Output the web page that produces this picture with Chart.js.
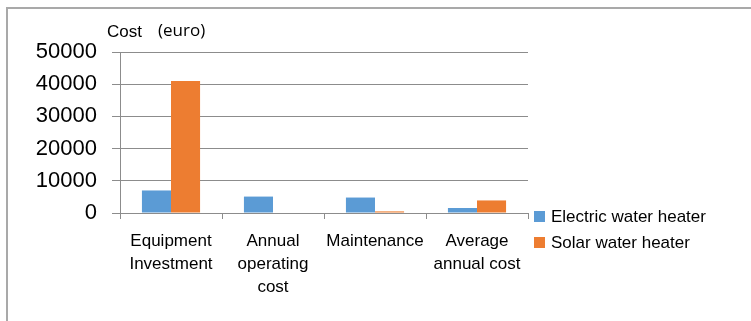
<!DOCTYPE html>
<html>
<head>
<meta charset="utf-8">
<script src="https://cdn.jsdelivr.net/npm/chart.js@4"></script>
<style>
    html, body { margin: 0; padding: 0; background: #fff; }
    #wrap { position: relative; width: 751px; height: 321px; }
    #frame {
        position: absolute; left: 6px; top: 7px; right: 0; bottom: 0;
        border-top: 2px solid #a9a9a9; border-left: 2px solid #a9a9a9;
    }
    #costChart { position: absolute; left: 0; top: 0; }
</style>
</head>
<body>
<div id="wrap">
    <div id="frame"></div>
    <canvas id="costChart" width="751" height="321"></canvas>
</div>
<script>
// Data
const categories = [
    ['Equipment', 'Investment'],
    ['Annual', 'operating', 'cost'],
    'Maintenance',
    ['Average', 'annual cost']
];
const electricCost = [7000, 5100, 4800, 1550];
const solarCost = [41000, 0, 500, 3900];
const seriesNames = ['Electric water heater', 'Solar water heater'];
const seriesColors = ['#5B9BD5', '#ED7D31'];

const gridGray = '#8c8c8c';
const textFont = 'Liberation Sans, Arial, sans-serif';

// Axis title + legend drawn on the canvas
const extrasPlugin = {
    id: 'extras',
    afterDraw(chart) {
        const ctx = chart.ctx;
        const area = chart.chartArea;
        ctx.save();
        ctx.fillStyle = '#000';
        ctx.textBaseline = 'middle';
        ctx.textAlign = 'left';
        ctx.font = '17px ' + textFont;
        ctx.fillText('Cost', area.left - 13, 32);
        ctx.font = '17px "Open Sans", sans-serif';
        ctx.fillText('(euro)', area.left + 38, 31);

        // legend
        const lx = area.right + 6;
        const ly = 211;
        chart.data.datasets.forEach((ds, i) => {
            const y = ly + i * 26;
            ctx.fillStyle = ds.backgroundColor;
            ctx.fillRect(lx, y, 11, 11);
            ctx.fillStyle = '#000';
            ctx.font = '17px ' + textFont;
            ctx.fillText(ds.label, lx + 17, y + 6);
        });
        ctx.restore();
    }
};

new Chart(document.getElementById('costChart'), {
    type: 'bar',
    data: {
        labels: categories,
        datasets: [
            {
                label: seriesNames[0],
                data: electricCost,
                backgroundColor: seriesColors[0],
                categoryPercentage: 0.57,
                barPercentage: 1.0
            },
            {
                label: seriesNames[1],
                data: solarCost,
                backgroundColor: seriesColors[1],
                categoryPercentage: 0.57,
                barPercentage: 1.0
            }
        ]
    },
    options: {
        responsive: false,
        animation: false,
        layout: {
            padding: { left: 0, top: 52, right: 223, bottom: 0 }
        },
        scales: {
            x: {
                grid: {
                    offset: true,
                    drawOnChartArea: false,
                    drawTicks: true,
                    tickLength: 6,
                    color: gridGray
                },
                border: { color: gridGray, width: 1 },
                ticks: {
                    color: '#000',
                    font: { family: textFont, size: 17, lineHeight: 1.35 },
                    maxRotation: 0,
                    autoSkip: false,
                    padding: 11
                },
                afterFit(scale) {
                    scale.height = 108;
                }
            },
            y: {
                min: 0,
                max: 50000,
                grid: {
                    color: gridGray,
                    tickLength: 8,
                    drawTicks: true
                },
                border: { color: gridGray, width: 1 },
                ticks: {
                    stepSize: 10000,
                    color: '#000',
                    font: { family: textFont, size: 22 },
                    padding: 15,
                    callback: function(value) {
                        return String(value);
                    }
                },
                afterFit(scale) {
                    scale.width = 120;
                }
            }
        },
        plugins: {
            legend: { display: false },
            tooltip: { enabled: false }
        }
    },
    plugins: [extrasPlugin]
});
</script>
</body>
</html>
